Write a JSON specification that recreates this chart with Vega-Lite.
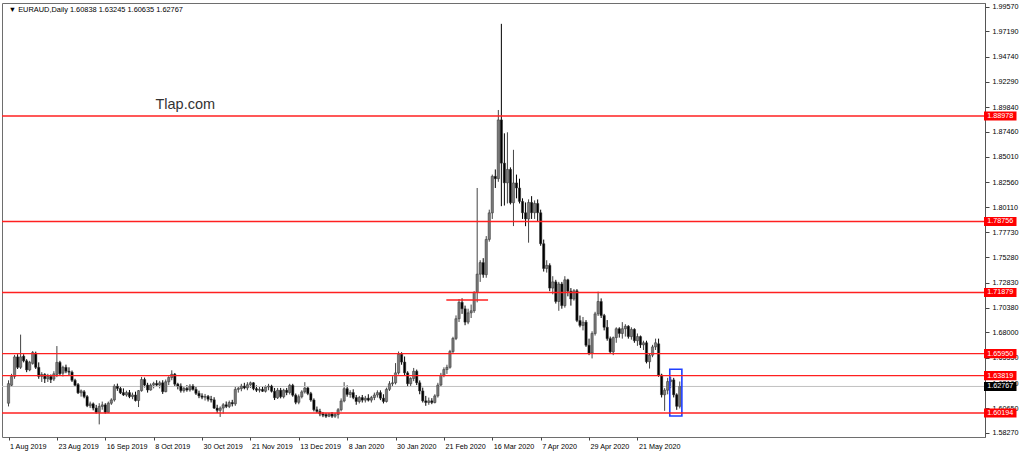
{
"$schema":"https://vega.github.io/schema/vega-lite/v6.json",
"width":983,"height":434,
"autosize":{"type":"none"},
"padding":{"left":2,"top":3,"right":39,"bottom":16},
"background":"white",
"config":{"view":{"stroke":"#6e6e6e","strokeWidth":1},"font":"Liberation Sans",
 "axis":{"labelOverlap":false,"labelFlush":false,"labelBound":false,"grid":false,"title":null,"labelFont":"Liberation Sans","labelFontSize":7.2,"labelColor":"#000000","tickColor":"#444444"},
 "axisX":{"domain":false,"tickSize":3,"labelAlign":"left","labelBaseline":"top","labelPadding":2,"labelOffset":1},
 "axisY":{"domain":true,"domainColor":"#555555","tickSize":4,"labelPadding":3,"labelBaseline":"middle","labelAlign":"left"}},
"datasets":{
"candles":[
{"i":0,"o":1.6114,"h":1.6336,"l":1.6083,"c":1.6304},
{"i":1,"o":1.6288,"h":1.6399,"l":1.6272,"c":1.6374},
{"i":2,"o":1.6374,"h":1.6582,"l":1.6351,"c":1.6563},
{"i":3,"o":1.6563,"h":1.6589,"l":1.6446,"c":1.6462},
{"i":4,"o":1.6462,"h":1.6779,"l":1.6446,"c":1.6563},
{"i":5,"o":1.6570,"h":1.6589,"l":1.6510,"c":1.6525},
{"i":6,"o":1.6525,"h":1.6541,"l":1.6415,"c":1.6437},
{"i":7,"o":1.6437,"h":1.6525,"l":1.6424,"c":1.6510},
{"i":8,"o":1.6500,"h":1.6620,"l":1.6488,"c":1.6605},
{"i":9,"o":1.6598,"h":1.6614,"l":1.6446,"c":1.6462},
{"i":10,"o":1.6462,"h":1.6510,"l":1.6351,"c":1.6374},
{"i":11,"o":1.6374,"h":1.6415,"l":1.6320,"c":1.6393},
{"i":12,"o":1.6393,"h":1.6405,"l":1.6310,"c":1.6351},
{"i":13,"o":1.6351,"h":1.6399,"l":1.6320,"c":1.6374},
{"i":14,"o":1.6374,"h":1.6393,"l":1.6310,"c":1.6342},
{"i":15,"o":1.6348,"h":1.6424,"l":1.6329,"c":1.6399},
{"i":16,"o":1.6393,"h":1.6668,"l":1.6367,"c":1.6510},
{"i":17,"o":1.6510,"h":1.6525,"l":1.6383,"c":1.6399},
{"i":18,"o":1.6405,"h":1.6478,"l":1.6374,"c":1.6462},
{"i":19,"o":1.6462,"h":1.6488,"l":1.6405,"c":1.6424},
{"i":20,"o":1.6424,"h":1.6462,"l":1.6383,"c":1.6415},
{"i":21,"o":1.6415,"h":1.6431,"l":1.6320,"c":1.6336},
{"i":22,"o":1.6336,"h":1.6351,"l":1.6272,"c":1.6288},
{"i":23,"o":1.6295,"h":1.6310,"l":1.6203,"c":1.6215},
{"i":24,"o":1.6215,"h":1.6247,"l":1.6178,"c":1.6234},
{"i":25,"o":1.6225,"h":1.6241,"l":1.6162,"c":1.6178},
{"i":26,"o":1.6178,"h":1.6193,"l":1.6076,"c":1.6089},
{"i":27,"o":1.6089,"h":1.6130,"l":1.6067,"c":1.6108},
{"i":28,"o":1.6108,"h":1.6121,"l":1.6045,"c":1.6067},
{"i":29,"o":1.6067,"h":1.6098,"l":1.6013,"c":1.6026},
{"i":30,"o":1.6026,"h":1.6114,"l":1.5909,"c":1.6083},
{"i":31,"o":1.6083,"h":1.6130,"l":1.6051,"c":1.6098},
{"i":32,"o":1.6098,"h":1.6114,"l":1.6013,"c":1.6026},
{"i":33,"o":1.6026,"h":1.6130,"l":1.6019,"c":1.6114},
{"i":34,"o":1.6114,"h":1.6162,"l":1.6098,"c":1.6146},
{"i":35,"o":1.6146,"h":1.6298,"l":1.6130,"c":1.6279},
{"i":36,"o":1.6279,"h":1.6304,"l":1.6234,"c":1.6257},
{"i":37,"o":1.6257,"h":1.6279,"l":1.6203,"c":1.6215},
{"i":38,"o":1.6217,"h":1.6258,"l":1.6185,"c":1.6194},
{"i":39,"o":1.6194,"h":1.6236,"l":1.6178,"c":1.6217},
{"i":40,"o":1.6217,"h":1.6242,"l":1.6163,"c":1.6178},
{"i":41,"o":1.6178,"h":1.6217,"l":1.6153,"c":1.6194},
{"i":42,"o":1.6194,"h":1.6226,"l":1.6131,"c":1.6140},
{"i":43,"o":1.6140,"h":1.6242,"l":1.6077,"c":1.6236},
{"i":44,"o":1.6236,"h":1.6369,"l":1.6226,"c":1.6344},
{"i":45,"o":1.6344,"h":1.6363,"l":1.6267,"c":1.6290},
{"i":46,"o":1.6290,"h":1.6312,"l":1.6217,"c":1.6242},
{"i":47,"o":1.6242,"h":1.6306,"l":1.6236,"c":1.6290},
{"i":48,"o":1.6290,"h":1.6322,"l":1.6258,"c":1.6306},
{"i":49,"o":1.6306,"h":1.6337,"l":1.6274,"c":1.6290},
{"i":50,"o":1.6290,"h":1.6331,"l":1.6258,"c":1.6312},
{"i":51,"o":1.6312,"h":1.6337,"l":1.6204,"c":1.6226},
{"i":52,"o":1.6226,"h":1.6344,"l":1.6220,"c":1.6322},
{"i":53,"o":1.6322,"h":1.6376,"l":1.6290,"c":1.6363},
{"i":54,"o":1.6363,"h":1.6433,"l":1.6337,"c":1.6395},
{"i":55,"o":1.6395,"h":1.6407,"l":1.6280,"c":1.6299},
{"i":56,"o":1.6299,"h":1.6312,"l":1.6248,"c":1.6280},
{"i":57,"o":1.6280,"h":1.6306,"l":1.6217,"c":1.6236},
{"i":58,"o":1.6236,"h":1.6280,"l":1.6217,"c":1.6258},
{"i":59,"o":1.6258,"h":1.6290,"l":1.6226,"c":1.6242},
{"i":60,"o":1.6242,"h":1.6299,"l":1.6226,"c":1.6280},
{"i":61,"o":1.6280,"h":1.6299,"l":1.6236,"c":1.6248},
{"i":62,"o":1.6248,"h":1.6274,"l":1.6194,"c":1.6210},
{"i":63,"o":1.6210,"h":1.6236,"l":1.6163,"c":1.6185},
{"i":64,"o":1.6185,"h":1.6210,"l":1.6153,"c":1.6172},
{"i":65,"o":1.6172,"h":1.6204,"l":1.6140,"c":1.6180},
{"i":66,"o":1.6180,"h":1.6194,"l":1.6131,"c":1.6153},
{"i":67,"o":1.6153,"h":1.6185,"l":1.6121,"c":1.6145},
{"i":68,"o":1.6147,"h":1.6172,"l":1.6058,"c":1.6067},
{"i":69,"o":1.6067,"h":1.6099,"l":1.6019,"c":1.6045},
{"i":70,"o":1.6045,"h":1.6083,"l":1.5981,"c":1.6067},
{"i":71,"o":1.6067,"h":1.6115,"l":1.6013,"c":1.6099},
{"i":72,"o":1.6099,"h":1.6131,"l":1.6067,"c":1.6083},
{"i":73,"o":1.6083,"h":1.6140,"l":1.6067,"c":1.6121},
{"i":74,"o":1.6121,"h":1.6147,"l":1.6083,"c":1.6108},
{"i":75,"o":1.6108,"h":1.6274,"l":1.6089,"c":1.6248},
{"i":76,"o":1.6248,"h":1.6274,"l":1.6217,"c":1.6258},
{"i":77,"o":1.6255,"h":1.6302,"l":1.6230,"c":1.6280},
{"i":78,"o":1.6280,"h":1.6312,"l":1.6249,"c":1.6262},
{"i":79,"o":1.6262,"h":1.6318,"l":1.6240,"c":1.6293},
{"i":80,"o":1.6293,"h":1.6324,"l":1.6262,"c":1.6312},
{"i":81,"o":1.6312,"h":1.6318,"l":1.6240,"c":1.6255},
{"i":82,"o":1.6255,"h":1.6287,"l":1.6224,"c":1.6240},
{"i":83,"o":1.6240,"h":1.6271,"l":1.6218,"c":1.6249},
{"i":84,"o":1.6249,"h":1.6280,"l":1.6224,"c":1.6230},
{"i":85,"o":1.6230,"h":1.6287,"l":1.6218,"c":1.6271},
{"i":86,"o":1.6271,"h":1.6302,"l":1.6240,"c":1.6280},
{"i":87,"o":1.6280,"h":1.6293,"l":1.6218,"c":1.6230},
{"i":88,"o":1.6230,"h":1.6262,"l":1.6145,"c":1.6167},
{"i":89,"o":1.6167,"h":1.6262,"l":1.6155,"c":1.6240},
{"i":90,"o":1.6240,"h":1.6262,"l":1.6161,"c":1.6177},
{"i":91,"o":1.6177,"h":1.6255,"l":1.6161,"c":1.6240},
{"i":92,"o":1.6240,"h":1.6262,"l":1.6192,"c":1.6218},
{"i":93,"o":1.6218,"h":1.6302,"l":1.6199,"c":1.6287},
{"i":94,"o":1.6287,"h":1.6302,"l":1.6177,"c":1.6192},
{"i":95,"o":1.6192,"h":1.6208,"l":1.6104,"c":1.6123},
{"i":96,"o":1.6123,"h":1.6199,"l":1.6104,"c":1.6177},
{"i":97,"o":1.6177,"h":1.6240,"l":1.6161,"c":1.6224},
{"i":98,"o":1.6224,"h":1.6318,"l":1.6208,"c":1.6262},
{"i":99,"o":1.6262,"h":1.6280,"l":1.6192,"c":1.6208},
{"i":100,"o":1.6208,"h":1.6224,"l":1.6129,"c":1.6145},
{"i":101,"o":1.6145,"h":1.6161,"l":1.6035,"c":1.6051},
{"i":102,"o":1.6051,"h":1.6082,"l":1.6019,"c":1.6035},
{"i":103,"o":1.6035,"h":1.6060,"l":1.5988,"c":1.6010},
{"i":104,"o":1.6010,"h":1.6029,"l":1.5979,"c":1.5998},
{"i":105,"o":1.6004,"h":1.6019,"l":1.5972,"c":1.5988},
{"i":106,"o":1.5988,"h":1.6019,"l":1.5979,"c":1.6010},
{"i":107,"o":1.6010,"h":1.6029,"l":1.5972,"c":1.5988},
{"i":108,"o":1.5988,"h":1.6019,"l":1.5972,"c":1.6004},
{"i":109,"o":1.6004,"h":1.6067,"l":1.5966,"c":1.6051},
{"i":110,"o":1.6051,"h":1.6161,"l":1.6035,"c":1.6136},
{"i":111,"o":1.6136,"h":1.6318,"l":1.6123,"c":1.6255},
{"i":112,"o":1.6255,"h":1.6287,"l":1.6177,"c":1.6199},
{"i":113,"o":1.6199,"h":1.6240,"l":1.6167,"c":1.6218},
{"i":114,"o":1.6217,"h":1.6249,"l":1.6153,"c":1.6169},
{"i":115,"o":1.6169,"h":1.6194,"l":1.6099,"c":1.6131},
{"i":116,"o":1.6131,"h":1.6185,"l":1.6112,"c":1.6169},
{"i":117,"o":1.6169,"h":1.6194,"l":1.6121,"c":1.6144},
{"i":118,"o":1.6144,"h":1.6185,"l":1.6121,"c":1.6163},
{"i":119,"o":1.6163,"h":1.6201,"l":1.6131,"c":1.6144},
{"i":120,"o":1.6144,"h":1.6185,"l":1.6121,"c":1.6169},
{"i":121,"o":1.6169,"h":1.6217,"l":1.6144,"c":1.6194},
{"i":122,"o":1.6194,"h":1.6239,"l":1.6169,"c":1.6217},
{"i":123,"o":1.6217,"h":1.6239,"l":1.6144,"c":1.6163},
{"i":124,"o":1.6163,"h":1.6201,"l":1.6112,"c":1.6131},
{"i":125,"o":1.6131,"h":1.6265,"l":1.6121,"c":1.6249},
{"i":126,"o":1.6249,"h":1.6328,"l":1.6233,"c":1.6303},
{"i":127,"o":1.6303,"h":1.6376,"l":1.6271,"c":1.6312},
{"i":128,"o":1.6312,"h":1.6503,"l":1.6296,"c":1.6408},
{"i":129,"o":1.6408,"h":1.6615,"l":1.6392,"c":1.6589},
{"i":130,"o":1.6589,"h":1.6608,"l":1.6487,"c":1.6513},
{"i":131,"o":1.6513,"h":1.6567,"l":1.6385,"c":1.6408},
{"i":132,"o":1.6408,"h":1.6424,"l":1.6271,"c":1.6303},
{"i":133,"o":1.6303,"h":1.6366,"l":1.6280,"c":1.6354},
{"i":134,"o":1.6354,"h":1.6456,"l":1.6328,"c":1.6424},
{"i":135,"o":1.6424,"h":1.6440,"l":1.6290,"c":1.6312},
{"i":136,"o":1.6312,"h":1.6335,"l":1.6201,"c":1.6233},
{"i":137,"o":1.6233,"h":1.6265,"l":1.6121,"c":1.6137},
{"i":138,"o":1.6137,"h":1.6185,"l":1.6089,"c":1.6121},
{"i":139,"o":1.6121,"h":1.6169,"l":1.6099,"c":1.6137},
{"i":140,"o":1.6137,"h":1.6163,"l":1.6105,"c":1.6121},
{"i":141,"o":1.6121,"h":1.6201,"l":1.6112,"c":1.6185},
{"i":142,"o":1.6185,"h":1.6312,"l":1.6169,"c":1.6290},
{"i":143,"o":1.6290,"h":1.6408,"l":1.6271,"c":1.6385},
{"i":144,"o":1.6385,"h":1.6462,"l":1.6366,"c":1.6440},
{"i":145,"o":1.6440,"h":1.6487,"l":1.6398,"c":1.6462},
{"i":146,"o":1.6462,"h":1.6631,"l":1.6449,"c":1.6615},
{"i":147,"o":1.6615,"h":1.6758,"l":1.6599,"c":1.6742},
{"i":148,"o":1.6742,"h":1.6965,"l":1.6726,"c":1.6933},
{"i":149,"o":1.6933,"h":1.7124,"l":1.6901,"c":1.7092},
{"i":150,"o":1.7092,"h":1.7131,"l":1.6980,"c":1.7029},
{"i":151,"o":1.7029,"h":1.7060,"l":1.6870,"c":1.6900},
{"i":152,"o":1.6900,"h":1.7030,"l":1.6880,"c":1.6990},
{"i":153,"o":1.6990,"h":1.7070,"l":1.6940,"c":1.7010},
{"i":154,"o":1.7010,"h":1.7200,"l":1.6990,"c":1.7188},
{"i":155,"o":1.7188,"h":1.8200,"l":1.7092,"c":1.7365},
{"i":156,"o":1.7365,"h":1.7500,"l":1.7290,"c":1.7477},
{"i":157,"o":1.7477,"h":1.7520,"l":1.7330,"c":1.7360},
{"i":158,"o":1.7360,"h":1.7734,"l":1.7330,"c":1.7702},
{"i":159,"o":1.7702,"h":1.7990,"l":1.7680,"c":1.7959},
{"i":160,"o":1.7959,"h":1.8330,"l":1.7900,"c":1.8313},
{"i":161,"o":1.8313,"h":1.8380,"l":1.8200,"c":1.8290},
{"i":162,"o":1.8290,"h":1.8956,"l":1.8260,"c":1.8860},
{"i":163,"o":1.8860,"h":1.9791,"l":1.8024,"c":1.8441},
{"i":164,"o":1.8441,"h":1.8730,"l":1.8030,"c":1.8250},
{"i":165,"o":1.8250,"h":1.8740,"l":1.8050,"c":1.8380},
{"i":166,"o":1.8380,"h":1.8400,"l":1.8041,"c":1.8057},
{"i":167,"o":1.8057,"h":1.8570,"l":1.7831,"c":1.8249},
{"i":168,"o":1.8249,"h":1.8330,"l":1.8100,"c":1.8200},
{"i":169,"o":1.8200,"h":1.8290,"l":1.8050,"c":1.8070},
{"i":170,"o":1.8070,"h":1.8100,"l":1.7900,"c":1.7960},
{"i":171,"o":1.7960,"h":1.8060,"l":1.7830,"c":1.7900},
{"i":172,"o":1.7900,"h":1.8090,"l":1.7670,"c":1.8060},
{"i":173,"o":1.8060,"h":1.8121,"l":1.7900,"c":1.7960},
{"i":174,"o":1.7960,"h":1.8080,"l":1.7900,"c":1.8050},
{"i":175,"o":1.8050,"h":1.8089,"l":1.7880,"c":1.7960},
{"i":176,"o":1.7960,"h":1.7990,"l":1.7640,"c":1.7660},
{"i":177,"o":1.7660,"h":1.7700,"l":1.7390,"c":1.7420},
{"i":178,"o":1.7420,"h":1.7500,"l":1.7380,"c":1.7450},
{"i":179,"o":1.7450,"h":1.7470,"l":1.7200,"c":1.7230},
{"i":180,"o":1.7230,"h":1.7345,"l":1.7170,"c":1.7290},
{"i":181,"o":1.7290,"h":1.7310,"l":1.7080,"c":1.7100},
{"i":182,"o":1.7100,"h":1.7290,"l":1.7010,"c":1.7270},
{"i":183,"o":1.7270,"h":1.7290,"l":1.7030,"c":1.7060},
{"i":184,"o":1.7060,"h":1.7345,"l":1.7040,"c":1.7310},
{"i":185,"o":1.7310,"h":1.7320,"l":1.7150,"c":1.7200},
{"i":186,"o":1.7200,"h":1.7230,"l":1.7060,"c":1.7124},
{"i":187,"o":1.7124,"h":1.7220,"l":1.7108,"c":1.7204},
{"i":188,"o":1.7204,"h":1.7220,"l":1.6900,"c":1.6916},
{"i":189,"o":1.6916,"h":1.6964,"l":1.6850,"c":1.6868},
{"i":190,"o":1.6868,"h":1.6950,"l":1.6820,"c":1.6900},
{"i":191,"o":1.6900,"h":1.6920,"l":1.6660,"c":1.6676},
{"i":192,"o":1.6676,"h":1.6740,"l":1.6580,"c":1.6600},
{"i":193,"o":1.6600,"h":1.6811,"l":1.6548,"c":1.6790},
{"i":194,"o":1.6790,"h":1.7000,"l":1.6770,"c":1.6980},
{"i":195,"o":1.6980,"h":1.7195,"l":1.6960,"c":1.7100},
{"i":196,"o":1.7100,"h":1.7130,"l":1.6940,"c":1.6964},
{"i":197,"o":1.6964,"h":1.6980,"l":1.6820,"c":1.6850},
{"i":198,"o":1.6850,"h":1.6920,"l":1.6720,"c":1.6740},
{"i":199,"o":1.6740,"h":1.6760,"l":1.6600,"c":1.6612},
{"i":200,"o":1.6612,"h":1.6760,"l":1.6580,"c":1.6750},
{"i":201,"o":1.6750,"h":1.6850,"l":1.6700,"c":1.6836},
{"i":202,"o":1.6836,"h":1.6850,"l":1.6750,"c":1.6790},
{"i":203,"o":1.6790,"h":1.6900,"l":1.6740,"c":1.6836},
{"i":204,"o":1.6836,"h":1.6880,"l":1.6760,"c":1.6860},
{"i":205,"o":1.6860,"h":1.6870,"l":1.6740,"c":1.6760},
{"i":206,"o":1.6760,"h":1.6850,"l":1.6730,"c":1.6830},
{"i":207,"o":1.6830,"h":1.6840,"l":1.6700,"c":1.6720},
{"i":208,"o":1.6720,"h":1.6790,"l":1.6670,"c":1.6760},
{"i":209,"o":1.6760,"h":1.6770,"l":1.6650,"c":1.6680},
{"i":210,"o":1.6680,"h":1.6720,"l":1.6630,"c":1.6700},
{"i":211,"o":1.6700,"h":1.6720,"l":1.6500,"c":1.6516},
{"i":212,"o":1.6516,"h":1.6600,"l":1.6450,"c":1.6580},
{"i":213,"o":1.6580,"h":1.6680,"l":1.6560,"c":1.6660},
{"i":214,"o":1.6660,"h":1.6740,"l":1.6630,"c":1.6700},
{"i":215,"o":1.6690,"h":1.6740,"l":1.6370,"c":1.6388},
{"i":216,"o":1.6388,"h":1.6400,"l":1.6170,"c":1.6196},
{"i":217,"o":1.6196,"h":1.6260,"l":1.6040,"c":1.6240},
{"i":218,"o":1.6240,"h":1.6360,"l":1.6200,"c":1.6324},
{"i":219,"o":1.6324,"h":1.6370,"l":1.6260,"c":1.6340},
{"i":220,"o":1.6340,"h":1.6360,"l":1.6170,"c":1.6196},
{"i":221,"o":1.6196,"h":1.6210,"l":1.6050,"c":1.6084},
{"i":222,"o":1.60838,"h":1.63245,"l":1.60635,"c":1.62767}
],
"levels":[{"level":1.88978},{"level":1.78756},{"level":1.71879},{"level":1.65950},{"level":1.63819},{"level":1.60194}],
"price":[{"p":1.62767}],
"segment":[{"from":144.8,"to":158.6,"p":1.7115}],
"box":[{"from":218.7,"to":222.7,"top":1.6443,"bottom":1.5990}],
"notes":[{"t":"Tlap.com","i":48.6,"p":1.9004}],
"header":[{"t":"▼ EURAUD,Daily  1.60838 1.63245 1.60635 1.62767","i":0.1,"p":1.99251}]
},
"layer":[
{"data":{"name":"candles"},"mark":{"type":"rule","strokeWidth":1},
 "encoding":{
  "x":{"field":"i","type":"quantitative","title":null,"scale":{"domain":[-0.5,321.3],"nice":false,"zero":false},
   "axis":{"values":[0,16,32,48,64,80,96,112,128,144,160,176,192,208],"tickCount":40,
    "labelExpr":"['1 Aug 2019','23 Aug 2019','16 Sep 2019','8 Oct 2019','30 Oct 2019','21 Nov 2019','13 Dec 2019','8 Jan 2020','30 Jan 2020','21 Feb 2020','16 Mar 2020','7 Apr 2020','29 Apr 2020','21 May 2020'][round(datum.value/16)]"}},
  "y":{"field":"l","type":"quantitative","title":null,"scale":{"domain":[1.57867,1.9993],"nice":false,"zero":false},
   "axis":{"orient":"right","tickCount":40,"values":[1.9957,1.9719,1.9474,1.9229,1.8984,1.8746,1.8501,1.8256,1.8011,1.7773,1.7528,1.7283,1.7038,1.68,1.6555,1.631,1.6065,1.5827],"format":".5f"}},
  "y2":{"field":"h"},
  "color":{"condition":{"test":"datum.c >= datum.o","value":"#444444"},"value":"#000000"}}},
{"data":{"name":"price"},"mark":{"type":"rule","color":"#c0c0c0","strokeWidth":1},
 "encoding":{"y":{"field":"p","type":"quantitative","title":null}}},
{"data":{"name":"candles"},"mark":{"type":"bar","width":2.3,"stroke":"#333333","strokeWidth":0.5},
 "encoding":{
  "x":{"field":"i","type":"quantitative","title":null},
  "y":{"field":"o","type":"quantitative","title":null},
  "y2":{"field":"c"},
  "color":{"condition":{"test":"datum.c >= datum.o","value":"#7a7a7a"},"value":"#000000"}}},
{"data":{"name":"segment"},"mark":{"type":"rule","color":"#ff2020","strokeWidth":1.4},
 "encoding":{"x":{"field":"from","type":"quantitative","title":null},"x2":{"field":"to"},"y":{"field":"p","type":"quantitative","title":null}}},
{"data":{"name":"box"},"mark":{"type":"rect","fillOpacity":0,"stroke":"#1f3fff","strokeWidth":1.6},
 "encoding":{"x":{"field":"from","type":"quantitative","title":null},"x2":{"field":"to"},"y":{"field":"top","type":"quantitative","title":null},"y2":{"field":"bottom"}}},
{"data":{"name":"levels"},"mark":{"type":"rule","strokeWidth":1.4},
 "encoding":{"y":{"field":"level","type":"quantitative","title":null},"color":{"value":"#ff2020"}}},
{"data":{"name":"levels"},"mark":{"type":"point","shape":"M-1,-0.28H1V0.28H-1Z","size":1056,"filled":true,"color":"#ff0000","opacity":1,"strokeWidth":0},
 "encoding":{"x":{"datum":328,"type":"quantitative","title":null},"y":{"field":"level","type":"quantitative","title":null}}},
{"data":{"name":"levels"},"mark":{"type":"text","font":"Liberation Sans","fontSize":7.2,"color":"#ffffff","align":"center","baseline":"middle"},
 "encoding":{"x":{"datum":328,"type":"quantitative","title":null},"y":{"field":"level","type":"quantitative","title":null},"text":{"field":"level","type":"quantitative","format":".5f"}}},
{"data":{"name":"price"},"mark":{"type":"point","shape":"M-1,-0.28H1V0.28H-1Z","size":1056,"filled":true,"color":"#000000","opacity":1,"strokeWidth":0},
 "encoding":{"x":{"datum":328,"type":"quantitative","title":null},"y":{"field":"p","type":"quantitative","title":null}}},
{"data":{"name":"price"},"mark":{"type":"text","font":"Liberation Sans","fontSize":7.2,"color":"#ffffff","align":"center","baseline":"middle"},
 "encoding":{"x":{"datum":328,"type":"quantitative","title":null},"y":{"field":"p","type":"quantitative","title":null},"text":{"field":"p","type":"quantitative","format":".5f"}}},
{"data":{"name":"notes"},"mark":{"type":"text","font":"Liberation Sans","fontSize":14.5,"color":"#333333","align":"left","baseline":"middle"},
 "encoding":{"x":{"field":"i","type":"quantitative","title":null},"y":{"field":"p","type":"quantitative","title":null},"text":{"field":"t"}}},
{"data":{"name":"header"},"mark":{"type":"text","font":"Liberation Sans","fontSize":7.4,"color":"#000000","align":"left","baseline":"middle"},
 "encoding":{"x":{"field":"i","type":"quantitative","title":null},"y":{"field":"p","type":"quantitative","title":null},"text":{"field":"t"}}}
]
}
